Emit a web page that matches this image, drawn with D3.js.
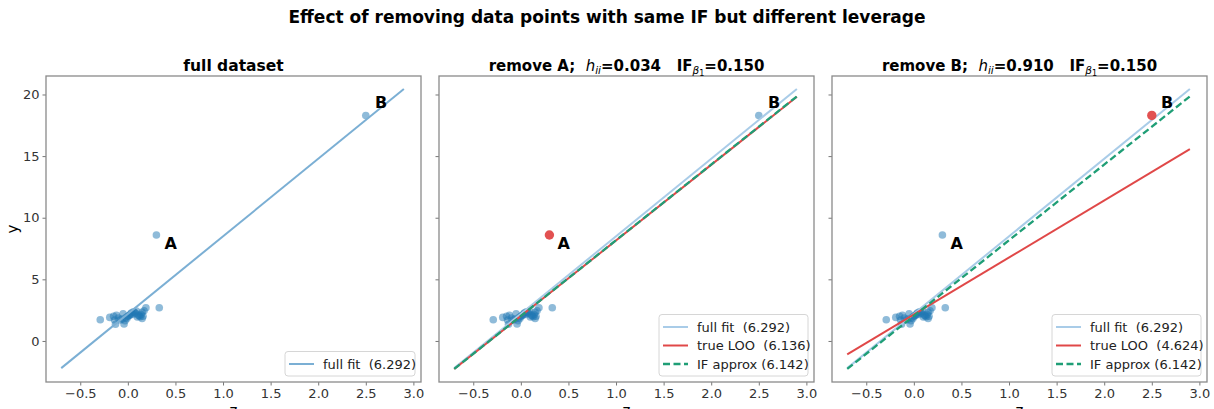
<!DOCTYPE html>
<html lang="en">
<head>
<meta charset="UTF-8">
<title>Effect of removing data points with same IF but different leverage</title>
<script src="https://d3js.org/d3.v7.min.js"></script>
<style>
    body { margin: 0; background: #fff; font-family: "DejaVu Sans", sans-serif; }
    svg text { white-space: pre; }
    .legend text { font-size: 13px; fill: #222; }
</style>
</head>
<body>
<div id="chart"></div>
<script>
// cluster of ordinary points (z, y)
var clusterZ = [-0.29, -0.19, -0.12, -0.05, -0.13, -0.04, -0.14, 0.33, 0.19, 0.15, 0.06, 0.02, -0.01,
                0.13, 0.15, 0.11, -0.08, -0.03, 0.08, 0.04, 0.09, -0.10, 0.00, 0.05, 0.12, 0.17, -0.06,
                0.03, 0.10, -0.15, 0.07, 0.14, -0.02, 0.01, 0.16];
var clusterY = [1.72, 1.91, 2.08, 2.20, 1.35, 1.38, 1.70, 2.69, 2.69, 2.32, 2.37, 2.10, 1.83,
                1.96, 1.83, 2.10, 1.70, 1.64, 2.24, 2.29, 2.42, 1.85, 2.00, 2.15, 2.05, 2.45, 1.78,
                2.20, 1.95, 2.00, 2.30, 2.15, 1.90, 2.05, 2.00];
// the two special points
var pointA = { name: "A", z: 0.30, y: 8.6, labelZ: 0.45, labelY: 7.9 };
var pointB = { name: "B", z: 2.50, y: 18.3, labelZ: 2.66, labelY: 19.4 };

// fitted lines: slope / intercept
var fullFit = { slope: 6.292, intercept: 2.20 };
var looA = { slope: 6.136, intercept: 2.02 };
var ifA = { slope: 6.142, intercept: 2.03 };
var looB = { slope: 4.624, intercept: 2.15 };
var ifB = { slope: 6.142, intercept: 2.03 };
var lineRange = [-0.7, 2.9];

var xTicks = [-0.5, 0.0, 0.5, 1.0, 1.5, 2.0, 2.5, 3.0];
var yTicks = [0, 5, 10, 15, 20];

var colFull = "#7bafd4", colFullLight = "#a9cce8", colLoo = "#e04848", colIF = "#1f9e76", colPt = "#1f77b4";

var panels = [
    { left: 46, plain: "full dataset", highlight: null,
      lines: [{ fit: fullFit, color: colFull, label: "full fit  (6.292)" }] },
    { left: 439, tName: "remove A;  ", h: "0.034", ifv: "0.150", highlight: pointA,
      lines: [{ fit: fullFit, color: colFullLight, label: "full fit  (6.292)" },
              { fit: looA, color: colLoo, label: "true LOO  (6.136)" },
              { fit: ifA, color: colIF, dash: "7,3.5", label: "IF approx (6.142)" }] },
    { left: 832, tName: "remove B;  ", h: "0.910", ifv: "0.150", highlight: pointB,
      lines: [{ fit: fullFit, color: colFullLight, label: "full fit  (6.292)" },
              { fit: looB, color: colLoo, label: "true LOO  (4.624)" },
              { fit: ifB, color: colIF, dash: "7,3.5", label: "IF approx (6.142)" }] }
];

var W = 1214, H = 409, plotTop = 76, pw = 375, ph = 306;

var svg = d3.select("#chart").append("svg").attr("width", W).attr("height", H);

svg.append("text")
    .attr("x", W / 2).attr("y", 23)
    .attr("text-anchor", "middle")
    .style("font-size", "17px").style("font-weight", "bold")
    .text("Effect of removing data points with same IF but different leverage");

var x = d3.scaleLinear().domain([-0.86, 3.08]).range([0, pw]);
var y = d3.scaleLinear().domain([-3.33, 21.5]).range([ph, 0]);

panels.forEach(function (p, pi) {
    var g = svg.append("g").attr("transform", "translate(" + p.left + "," + plotTop + ")");

    // axes
    var xa = g.append("g").attr("transform", "translate(0," + ph + ")")
        .call(d3.axisBottom(x).tickValues(xTicks).tickFormat(d3.format(".1f")).tickSizeOuter(0).tickSize(3.5));
    var ya = g.append("g")
        .call(d3.axisLeft(y).tickValues(yTicks).tickSizeOuter(0).tickSize(3.5));
    if (pi > 0) ya.selectAll("text").remove();
    [xa, ya].forEach(function (a) {
        a.select(".domain").remove();
        a.selectAll("line").attr("stroke", "#777");
        a.selectAll("text").style("font-family", "DejaVu Sans").style("font-size", "13px").attr("fill", "#333");
    });

    // frame
    g.append("rect").attr("width", pw).attr("height", ph)
        .attr("fill", "none").attr("stroke", "#8a8a8a").attr("stroke-width", 1.3);

    // points
    var pts = clusterZ.map(function (z, i) { return { z: z, y: clusterY[i] }; });
    [pointA, pointB].forEach(function (s) {
        if (p.highlight !== s) pts.push({ z: s.z, y: s.y });
    });
    g.selectAll(".pt").data(pts).enter().append("circle")
        .attr("cx", function (d) { return x(d.z); })
        .attr("cy", function (d) { return y(d.y); })
        .attr("r", 3.8)
        .attr("fill", colPt).attr("fill-opacity", 0.5);

    // lines
    p.lines.forEach(function (l) {
        g.append("line")
            .attr("x1", x(lineRange[0])).attr("y1", y(l.fit.intercept + l.fit.slope * lineRange[0]))
            .attr("x2", x(lineRange[1])).attr("y2", y(l.fit.intercept + l.fit.slope * lineRange[1]))
            .attr("stroke", l.color).attr("stroke-width", l.dash ? 2.3 : 2)
            .attr("stroke-dasharray", l.dash || null);
    });

    if (p.highlight) {
        g.append("circle")
            .attr("cx", x(p.highlight.z)).attr("cy", y(p.highlight.y))
            .attr("r", 4.7).attr("fill", colLoo).attr("fill-opacity", 0.95);
    }

    // A / B labels
    [pointA, pointB].forEach(function (s) {
        g.append("text")
            .attr("x", x(s.labelZ)).attr("y", y(s.labelY)).attr("dy", "0.36em")
            .attr("text-anchor", "middle")
            .style("font-size", "16px").style("font-weight", "bold")
            .text(s.name);
    });

    // title
    var t = g.append("text").attr("x", pw / 2).attr("y", -5)
        .attr("text-anchor", "middle")
        .style("font-size", "15px").style("font-weight", "bold");
    if (p.plain) {
        t.style("font-size", "15.5px").text(p.plain);
    } else {
        t.append("tspan").text(p.tName);
        t.append("tspan").style("font-style", "italic").style("font-weight", "normal").text("h");
        t.append("tspan").style("font-style", "italic").style("font-weight", "normal")
            .style("font-size", "10.5px").attr("dy", 3).text("ii");
        t.append("tspan").attr("dy", -3).text("=" + p.h + "   IF");
        t.append("tspan").style("font-style", "italic").style("font-weight", "normal")
            .style("font-size", "10.5px").attr("dy", 3).text("β");
        t.append("tspan").style("font-weight", "normal")
            .style("font-size", "8px").attr("dy", 2).text("1");
        t.append("tspan").attr("dy", -5).text("=" + p.ifv);
    }

    // legend
    var n = p.lines.length, lw = n === 1 ? 130 : 149, lh = 6 + n * 18.5;
    var lg = g.append("g").attr("class", "legend")
        .attr("transform", "translate(" + (pw - 6 - lw) + "," + (ph - 6 - lh) + ")");
    lg.append("rect").attr("width", lw).attr("height", lh).attr("rx", 3)
        .attr("fill", "#fff").attr("fill-opacity", 0.85)
        .attr("stroke", "#d6d6d6");
    p.lines.forEach(function (l, i) {
        var cy = 12.5 + i * 18.5;
        lg.append("line").attr("x1", 4).attr("x2", 29).attr("y1", cy).attr("y2", cy)
            .attr("stroke", l.color).attr("stroke-width", l.dash ? 2.3 : 2)
            .attr("stroke-dasharray", l.dash || null);
        lg.append("text").attr("x", 38).attr("y", cy).attr("dy", "0.36em").text(l.label);
    });

    // axis labels
    g.append("text").attr("x", pw / 2).attr("y", ph + 34)
        .attr("text-anchor", "middle").style("font-size", "15px").text("z");
    if (pi === 0) {
        g.append("text").attr("transform", "translate(-28," + (ph / 2) + ") rotate(-90)")
            .attr("text-anchor", "middle").style("font-size", "15px").text("y");
    }
});
</script>
</body>
</html>
